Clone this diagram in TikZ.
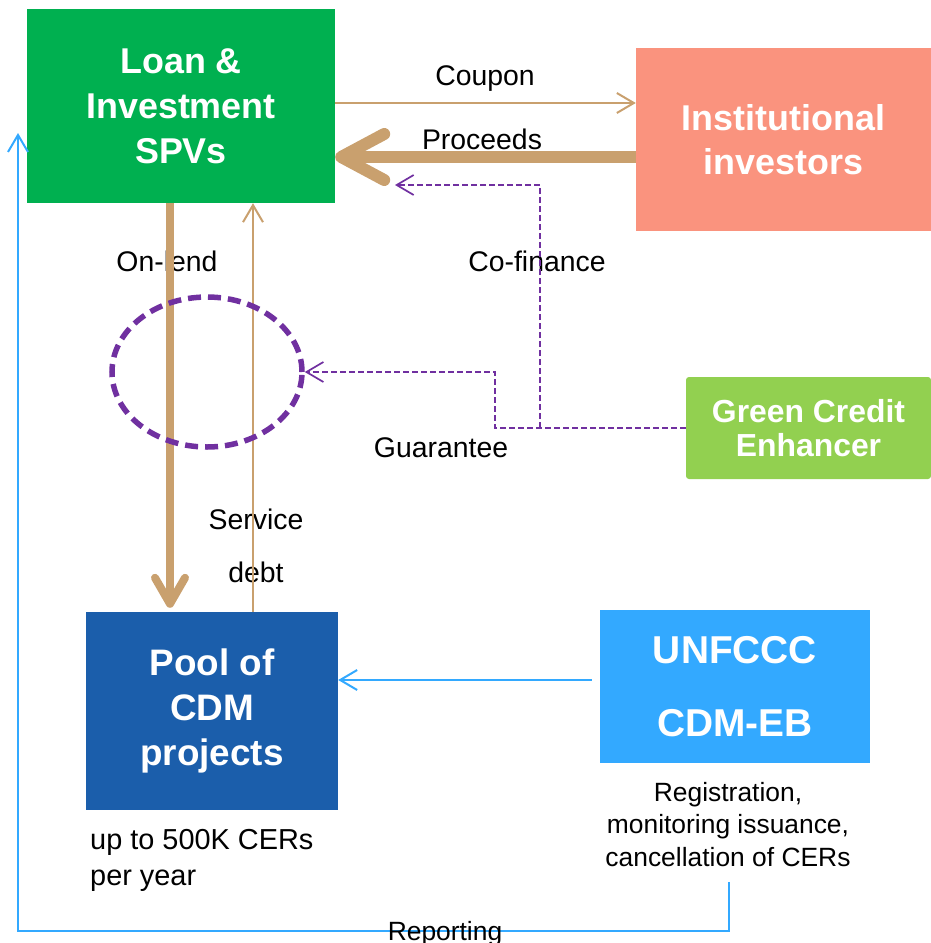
\documentclass[tikz,border=0pt]{standalone}
\usepackage{fontspec}
\setmainfont{Liberation Sans}
\usetikzlibrary{arrows.meta,shapes.geometric}

\definecolor{spvgreen}{HTML}{00B050}
\definecolor{salmon}{HTML}{FA937E}
\definecolor{limegreen}{HTML}{92D050}
\definecolor{cdmblue}{HTML}{1B5EAB}
\definecolor{unblue}{HTML}{33A9FF}
\definecolor{cashtan}{HTML}{C9A06E}
\definecolor{grape}{HTML}{7030A0}

\begin{document}
\begin{tikzpicture}[x=1bp, y=-1bp,
    box/.style = {fill=#1, text=white, align=center, inner sep=0pt},
    lbl/.style = {font=\fontsize{28.5}{34}\selectfont, inner sep=0pt},
    note/.style = {font=\fontsize{26.5}{32.5}\selectfont, inner sep=0pt},
    thinhead/.style = {-{Straight Barb[length=17bp,width=20bp]}},
    money/.style = {draw=cashtan, line width=2bp, thinhead},
    bigmoney/.style = {draw=cashtan, line width=#1},
    credit/.style = {draw=grape, line width=1.7bp, dash pattern=on 6bp off 3bp, thinhead},
    report/.style = {draw=unblue, line width=2bp, thinhead}]
    \useasboundingbox (0,0) rectangle (931,943);

    % boxes
    \node[box=spvgreen, minimum width=308bp, minimum height=194bp,
          font=\bfseries\fontsize{36}{45}\selectfont] (spv) at (181,106) {Loan \&\\Investment\\SPVs};
    \node[box=salmon, minimum width=295bp, minimum height=183bp,
          font=\bfseries\fontsize{36}{44}\selectfont] (inv) at (783.5,139.5) {Institutional\\investors};
    \node[box=limegreen, minimum width=245bp, minimum height=102bp, rounded corners=3bp,
          font=\bfseries\fontsize{32}{34}\selectfont] (gce) at (808.5,428) {Green Credit\\Enhancer};
    \node[box=cdmblue, minimum width=252bp, minimum height=198bp,
          font=\bfseries\fontsize{37}{45}\selectfont] (pool) at (212,711) {Pool of\\CDM\\projects};
    \node[box=unblue, minimum width=270bp, minimum height=153bp,
          font=\bfseries\fontsize{39}{73}\selectfont] (un) at (735,686.5) {UNFCCC\\CDM-EB};

    % texts
    \node[lbl, anchor=base] (coupon) at (485,85) {Coupon};
    \node[lbl, anchor=base] (proceeds) at (482,149) {Proceeds};
    \node[lbl, anchor=base] (onlend) at (167,271) {On-lend};
    \node[lbl, anchor=base] (cofin) at (537,271) {Co-finance};
    \node[lbl, anchor=base] (guar) at (441,457) {Guarantee};
    \node[lbl, align=center, font=\fontsize{28.5}{53}\selectfont] (svc) at (256,546) {Service\\debt};
    \node[lbl, align=left, anchor=west, font=\fontsize{29}{36}\selectfont] (cers) at (90,860.5) {up to 500K CERs\\per year};
    \node[note, align=center] (reg) at (728,824.5) {Registration,\\monitoring issuance,\\cancellation of CERs};

    % cash flows
    \draw[money] (spv.east |- 0,103) -- (inv.west |- 0,103);
    \draw[bigmoney=12bp, -{Straight Barb[length=43bp,width=46bp,round]}] (inv.west |- 0,157) -- (spv.east |- 0,157);
    \draw[bigmoney=8bp, -{Straight Barb[length=26bp,width=30bp,round]}, shorten >=4bp] (spv.south -| 170,0) -- (pool.north -| 170,0);
    \draw[money] (pool.north -| 253,0) -- (spv.south -| 253,0);

    % guarantee
    \node[ellipse, draw=grape, line width=5.5bp, dash pattern=on 13bp off 7bp,
          minimum width=190bp, minimum height=150bp] (grt) at (207,372) {};
    \coordinate (split) at (540,428);
    \coordinate (cfend) at (395,185);
    \draw[credit] (gce.west) -- (495,428) |- (grt.east);
    \draw[credit] (split) |- (cfend);

    % CDM
    \draw[report, shorten <=8bp] (un.west |- 0,680) -- (pool.east |- 0,680);
    \coordinate (repend) at (18,133);
    \draw[report, shorten <=15bp] (reg.south -| 729,0) -- (729,931) -| (repend);
    \node[note, anchor=base] (rep) at (445,940) {Reporting};
\end{tikzpicture}
\end{document}
